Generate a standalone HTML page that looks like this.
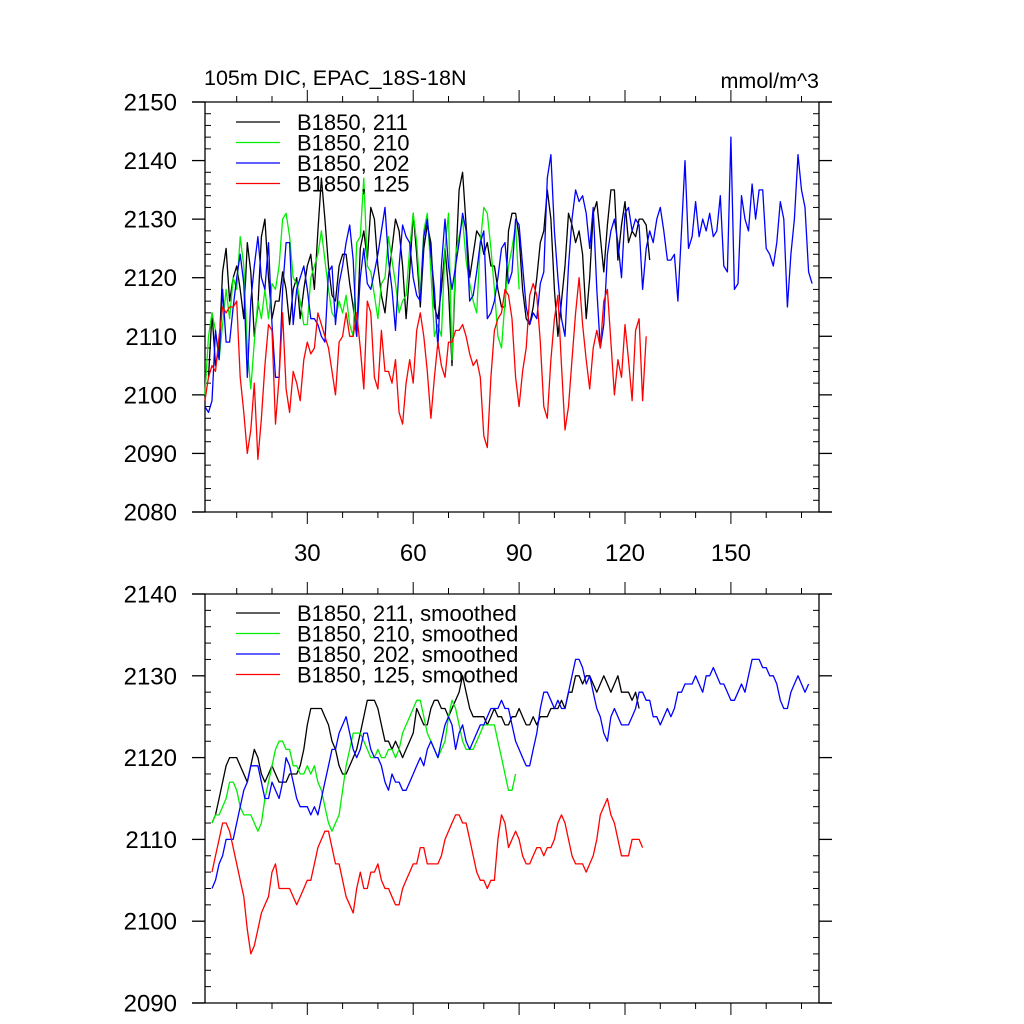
<!DOCTYPE html>
<html><head><meta charset="utf-8"><style>
html,body{margin:0;padding:0;background:#fff;}
svg{display:block;font-family:"Liberation Sans",sans-serif;}
</style></head><body>
<svg id="chart" width="1024" height="1024" viewBox="0 0 1024 1024" xmlns="http://www.w3.org/2000/svg">
<text x="204" y="85" font-size="21.5">105m DIC, EPAC_18S-18N</text>
<text x="819" y="88" font-size="21.5" text-anchor="end">mmol/m^3</text>
<g id="top"></g>
<g id="bot"></g>
</svg>
<script>
// ---- data ----
const seriesNames = ["B1850, 211","B1850, 210","B1850, 202","B1850, 125"];
const seriesColors = ["#000","#00ee00","#0000ff","#ff0000"];
const xTickLabels = [30,60,90,120,150];
const topYTicks = [2080,2090,2100,2110,2120,2130,2140,2150];
const botYTicks = [2090,2100,2110,2120,2130,2140];
const rawStart = [2,1,1,1];
const raw211 = [2103,2114,2105,2108,2121,2125,2116,2120,2122,2118,2113,2126,2121,2110,2115,2127,2130,2120,2113,2116,2116,2121,2118,2112,2118,2120,2113,2118,2122,2124,2118,2128,2137,2130,2122,2117,2116,2122,2124,2124,2119,2115,2110,2125,2128,2123,2132,2130,2122,2117,2114,2120,2125,2130,2128,2122,2113,2121,2131,2124,2115,2125,2129,2126,2115,2113,2118,2125,2118,2105,2122,2135,2138,2129,2120,2124,2128,2127,2124,2126,2122,2122,2118,2115,2115,2128,2131,2131,2127,2118,2113,2112,2115,2120,2126,2128,2135,2130,2118,2110,2116,2122,2131,2129,2126,2128,2124,2113,2120,2131,2133,2127,2121,2129,2135,2135,2123,2129,2133,2126,2128,2127,2130,2130,2129,2123];
const raw210 = [2100,2110,2114,2111,2106,2112,2118,2113,2120,2118,2127,2122,2108,2101,2109,2116,2113,2118,2113,2119,2118,2122,2130,2131,2127,2120,2119,2116,2112,2112,2120,2122,2124,2128,2123,2118,2114,2113,2116,2114,2117,2112,2110,2126,2127,2137,2122,2121,2117,2113,2119,2120,2127,2123,2119,2114,2116,2117,2125,2131,2126,2117,2128,2131,2121,2110,2112,2110,2125,2131,2106,2124,2127,2130,2123,2119,2116,2114,2126,2132,2131,2125,2118,2110,2108,2116,2122,2125,2129,2118];
const raw202 = [2098,2097,2099,2111,2106,2118,2109,2109,2115,2120,2124,2119,2103,2116,2122,2127,2120,2118,2126,2112,2103,2103,2118,2126,2126,2112,2118,2120,2122,2118,2113,2113,2112,2110,2109,2121,2122,2112,2119,2122,2126,2129,2123,2110,2120,2125,2119,2118,2121,2124,2128,2132,2123,2118,2111,2122,2129,2127,2126,2120,2117,2116,2127,2130,2124,2118,2108,2122,2130,2122,2118,2122,2126,2131,2128,2116,2117,2121,2126,2128,2113,2114,2116,2120,2125,2126,2119,2121,2130,2129,2122,2115,2112,2114,2113,2119,2121,2137,2141,2128,2120,2113,2110,2122,2130,2135,2133,2134,2131,2125,2132,2118,2108,2112,2124,2128,2130,2126,2120,2131,2132,2128,2130,2129,2118,2125,2128,2126,2130,2132,2128,2123,2123,2124,2116,2128,2140,2125,2127,2133,2127,2130,2128,2131,2127,2128,2134,2122,2121,2144,2118,2119,2134,2130,2128,2136,2130,2135,2135,2125,2124,2122,2126,2133,2130,2115,2124,2130,2141,2135,2132,2121,2119];
const raw125 = [2099,2103,2105,2104,2110,2115,2114,2115,2115,2116,2103,2097,2090,2094,2102,2089,2096,2105,2112,2111,2095,2103,2114,2101,2097,2104,2102,2099,2106,2109,2107,2108,2114,2112,2110,2108,2104,2100,2109,2110,2114,2110,2110,2114,2108,2101,2116,2114,2103,2101,2111,2104,2104,2102,2106,2097,2095,2102,2106,2102,2111,2114,2110,2104,2096,2103,2109,2105,2103,2109,2109,2111,2111,2112,2110,2107,2105,2106,2103,2093,2091,2103,2111,2113,2114,2118,2117,2113,2103,2098,2104,2108,2117,2119,2117,2109,2098,2096,2106,2113,2117,2105,2094,2098,2106,2114,2120,2112,2106,2101,2108,2111,2108,2116,2118,2109,2100,2106,2103,2112,2106,2099,2111,2113,2099,2110];
const smStart = [3,3,3,3];
const sm211 = [2112,2113,2115,2117,2119,2120,2120,2120,2119,2118,2117,2119,2121,2120,2118,2117,2118,2119,2118,2117,2117,2117,2118,2118,2118,2119,2121,2124,2126,2126,2126,2126,2125,2124,2122,2121,2119,2118,2118,2119,2120,2121,2123,2125,2127,2127,2127,2126,2124,2122,2122,2121,2122,2121,2120,2121,2122,2123,2126,2125,2124,2124,2126,2127,2127,2126,2126,2125,2126,2127,2128,2130,2128,2126,2125,2125,2125,2125,2124,2125,2126,2125,2125,2124,2124,2125,2125,2126,2125,2124,2124,2125,2124,2125,2125,2125,2126,2126,2126,2127,2126,2128,2128,2130,2130,2129,2130,2130,2129,2128,2129,2130,2129,2128,2129,2130,2128,2128,2128,2127,2128,2126];
const sm210 = [2112,2113,2113,2114,2115,2117,2117,2116,2114,2113,2113,2113,2112,2111,2112,2115,2117,2119,2121,2122,2122,2121,2121,2119,2119,2118,2118,2119,2118,2119,2117,2116,2114,2112,2111,2112,2113,2116,2119,2121,2123,2123,2123,2122,2121,2120,2120,2121,2120,2120,2121,2121,2120,2121,2123,2124,2125,2126,2127,2127,2125,2123,2122,2121,2120,2121,2122,2125,2127,2126,2124,2122,2121,2121,2121,2122,2123,2124,2124,2124,2124,2122,2120,2118,2116,2116,2118];
const sm202 = [2104,2105,2107,2108,2110,2110,2110,2112,2114,2116,2117,2119,2119,2119,2117,2115,2115,2117,2116,2115,2117,2120,2119,2117,2115,2114,2114,2114,2113,2114,2113,2115,2117,2119,2121,2121,2123,2124,2125,2123,2121,2120,2121,2123,2123,2121,2120,2120,2119,2117,2116,2118,2117,2117,2116,2116,2117,2118,2119,2120,2119,2121,2122,2121,2120,2122,2124,2125,2124,2121,2123,2124,2122,2121,2122,2123,2124,2124,2125,2126,2126,2126,2127,2126,2126,2124,2122,2121,2120,2119,2119,2121,2123,2126,2128,2128,2127,2126,2127,2126,2126,2128,2130,2132,2132,2131,2129,2130,2128,2126,2125,2123,2122,2125,2126,2125,2124,2124,2124,2125,2126,2128,2128,2127,2127,2125,2125,2124,2125,2126,2125,2126,2128,2128,2129,2129,2129,2130,2129,2128,2130,2130,2131,2130,2129,2129,2128,2127,2127,2128,2129,2128,2130,2132,2132,2132,2131,2131,2130,2130,2129,2127,2126,2126,2128,2129,2130,2129,2128,2129];
const sm125 = [2106,2108,2110,2112,2112,2111,2109,2107,2105,2103,2099,2096,2097,2099,2101,2102,2103,2106,2107,2104,2104,2104,2104,2103,2102,2103,2104,2105,2105,2107,2109,2110,2111,2111,2109,2107,2107,2105,2103,2102,2101,2104,2106,2104,2104,2106,2106,2107,2105,2104,2104,2103,2102,2102,2104,2105,2106,2107,2107,2109,2109,2107,2107,2107,2107,2108,2110,2111,2112,2113,2113,2112,2112,2110,2108,2106,2105,2105,2104,2105,2105,2110,2113,2112,2109,2110,2111,2110,2108,2107,2107,2108,2109,2109,2108,2109,2109,2110,2112,2113,2112,2110,2108,2107,2107,2107,2106,2107,2108,2110,2113,2114,2115,2113,2112,2110,2108,2108,2108,2110,2110,2110,2109];

const NS="http://www.w3.org/2000/svg";
function mk(tag,attrs,parent){const e=document.createElementNS(NS,tag);for(const k in attrs)e.setAttribute(k,attrs[k]);parent.appendChild(e);return e;}
const L=205,R=819;
function xs(v){return 201.4+3.53*v;}

function panel(g,top,bottom,y0,y1,yTicks,showX,series,starts,legendTop,suffix,pname){
  const ys=v=>bottom-(v-y0)/(y1-y0)*(bottom-top);
  const la=mk('line',{x1:L,y1:top,x2:L,y2:bottom,stroke:'#000','stroke-width':1.3},g);
  
  
  const ra=mk('line',{x1:R,y1:top,x2:R,y2:bottom,stroke:'#000','stroke-width':1.3},g);
  
  
  for(let v=y0;v<=y1;v+=2){
    const y=ys(v);
    if((v-y0)%10===0){
      mk('line',{x1:192,y1:y,x2:L,y2:y,stroke:'#000','stroke-width':1.3},g);
      mk('line',{x1:R,y1:y,x2:832,y2:y,stroke:'#000','stroke-width':1.3},g);
    }else{
      mk('line',{x1:L,y1:y,x2:L+6,y2:y,stroke:'#000','stroke-width':1},g);
      mk('line',{x1:R-6,y1:y,x2:R,y2:y,stroke:'#000','stroke-width':1},g);
    }
  }
  yTicks.forEach(v=>{
    const t=mk('text',{x:177,y:ys(v)+8.5,'font-size':24,'text-anchor':'end'},g);
    t.textContent=v;
    
    
  });
  mk('line',{x1:192,y1:top,x2:832,y2:top,stroke:'#000','stroke-width':1.3},g);
  mk('line',{x1:192,y1:bottom,x2:832,y2:bottom,stroke:'#000','stroke-width':1.3},g);
  for(let v=10;v<=170;v+=10){
    const x=xs(v),len=(v%30===0)?12:6;
    mk('line',{x1:x,y1:bottom,x2:x,y2:bottom+len,stroke:'#000','stroke-width':1},g);
    mk('line',{x1:x,y1:top,x2:x,y2:top-len,stroke:'#000','stroke-width':1},g);
  }
  if(showX){
    xTickLabels.forEach(v=>{
      const t=mk('text',{x:xs(v),y:bottom+49,'font-size':24,'text-anchor':'middle'},g);
      t.textContent=v;
      
      
    });
  }
  series.forEach((arr,i)=>{
    const pts=arr.map((v,j)=>xs(starts[i]+j).toFixed(1)+','+ys(v).toFixed(1)).join(' ');
    const p=mk('polyline',{points:pts,fill:'none',stroke:seriesColors[i],'stroke-width':1.3,'stroke-linejoin':'round'},g);
    
    
  });
  seriesNames.forEach((n,i)=>{
    const y=legendTop+i*20.5;
    const lg=mk('g',{},g);
    
    
    mk('line',{x1:236,y1:y,x2:280,y2:y,stroke:seriesColors[i],'stroke-width':1.3},lg);
    const t=mk('text',{x:297,y:y+8,'font-size':22},lg);
    t.textContent=n+suffix;
  });
}
panel(document.getElementById('top'),102,512,2080,2150,topYTicks,true,[raw211,raw210,raw202,raw125],rawStart,122,'','top');
panel(document.getElementById('bot'),594,1003,2090,2140,botYTicks,false,[sm211,sm210,sm202,sm125],smStart,613,', smoothed','bottom');
</script>
</body></html>
